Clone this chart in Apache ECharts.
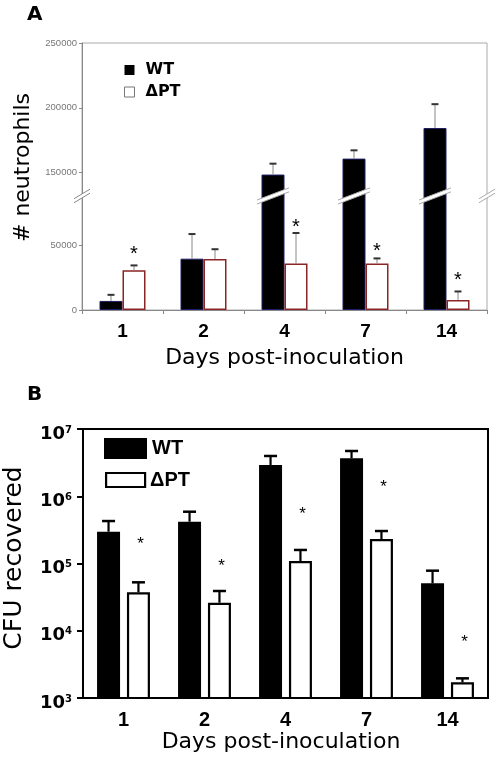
<!DOCTYPE html>
<html><head><meta charset="utf-8">
<script src="https://cdn.jsdelivr.net/npm/echarts@6.0.0/dist/echarts.min.js"></script>
<style>html,body{margin:0;padding:0;background:#fff}#c{width:500px;height:766px}</style>
</head><body><div id="c"></div>
<script>
// ---------------- data ----------------
const days = ['1', '2', '4', '7', '14'];
// Panel A: # neutrophils (mean, +SD), asterisk positions
const neutWT = [7000, 39600, 148500, 160800, 184400];
const neutWTErr = [4700, 19000, 8400, 6400, 18400];
const neutPT = [30700, 39300, 35900, 35900, 7800];
const neutPTErr = [3700, 7600, 23500, 3900, 6500];
const neutStar = [46300, null, 67100, 48600, 26200];
const neutTicks = [0, 50000, 150000, 200000, 250000];
// Panel B: CFU recovered (mean, +SD), asterisk positions
const cfuWT = [297000, 418000, 2920000, 3660000, 50700];
const cfuWTErr = [131000, 171000, 1050000, 1050000, 27500];
const cfuPT = [37300, 26100, 109000, 231000, 1710];
const cfuPTErr = [15200, 12900, 50000, 73000, 250];
const cfuStar = [223000, 105000, 625000, 1570000, 7800];
const cfuMin = 1000, cfuMax = 10000000;

// broken y axis of panel A: values between BREAK_LOW and BREAK_HIGH are cut out
const BREAK_LOW = 88000, BREAK_HIGH = 132000;
const CUT = BREAK_HIGH - BREAK_LOW;
const fA = v => v <= BREAK_LOW ? v : (v >= BREAK_HIGH ? v - CUT : BREAK_LOW);
const invA = v => v > BREAK_LOW ? v + CUT : v;
const fB = v => v;

const SANS = "'Liberation Sans', Arial, sans-serif";
const WIDE = "'DejaVu Sans', sans-serif";

function errSeries(ax, vals, errs, tf, offset, st) {
  return {
    type: 'custom', xAxisIndex: ax, yAxisIndex: ax, silent: true, z: 4,
    data: vals.map((v, i) => [i, tf(v), tf(v + errs[i])]),
    encode: { x: 0, y: [1, 2] },
    renderItem(params, api) {
      const b = api.coord([api.value(0), api.value(1)]);
      const t = api.coord([api.value(0), api.value(2)]);
      const x = b[0] + offset;
      return { type: 'group', children: [
        { type: 'line', shape: { x1: x, y1: b[1], x2: x, y2: t[1] }, style: { stroke: st.stem, lineWidth: st.lw } },
        { type: 'line', shape: { x1: x - st.cap / 2, y1: t[1], x2: x + st.cap / 2, y2: t[1] }, style: { stroke: st.capColor, lineWidth: st.capLw } }
      ]};
    }
  };
}
function starSeries(ax, vals, tf, offset, fs) {
  return {
    type: 'custom', xAxisIndex: ax, yAxisIndex: ax, silent: true, z: 5,
    data: vals.map((v, i) => v == null ? null : [i, tf(v)]).filter(d => d),
    encode: { x: 0, y: 1 },
    renderItem(params, api) {
      const p = api.coord([api.value(0), api.value(1)]);
      return { type: 'text', x: p[0] + offset, y: p[1] + fs * 0.23,
        style: { text: '*', fill: '#000', fontSize: fs, fontFamily: SANS, align: 'center', verticalAlign: 'middle' } };
    }
  };
}
function slash(cx, cy, halfW, slope, thick, edge) {
  const dy = halfW * slope, h = thick / 2;
  const a = [cx - halfW, cy + dy], b = [cx + halfW, cy - dy];
  return [
    { type: 'polygon', shape: { points: [[a[0], a[1] - h], [b[0], b[1] - h], [b[0], b[1] + h], [a[0], a[1] + h]] }, style: { fill: '#fff' } },
    { type: 'line', shape: { x1: a[0], y1: a[1] - h, x2: b[0], y2: b[1] - h }, style: { stroke: edge, lineWidth: 1 } },
    { type: 'line', shape: { x1: a[0], y1: a[1] + h, x2: b[0], y2: b[1] + h }, style: { stroke: edge, lineWidth: 1 } }
  ];
}

const chart = echarts.init(document.getElementById('c'), null, { renderer: 'canvas' });
const option = {
  animation: false,
  backgroundColor: '#fff',
  title: [
    { text: 'A', left: 27, top: 5, padding: 0, textStyle: { fontFamily: WIDE, fontWeight: 'bold', fontSize: 20, color: '#000' } },
    { text: 'B', left: 27, top: 385, padding: 0, textStyle: { fontFamily: WIDE, fontWeight: 'bold', fontSize: 20, color: '#000' } }
  ],
  legend: [
    { left: 124, top: 62, orient: 'vertical', itemWidth: 10, itemHeight: 10, itemGap: 6, selectedMode: false, padding: 0,
      textStyle: { fontFamily: WIDE, fontWeight: 'bold', fontSize: 16, lineHeight: 16, color: '#000', padding: [0, 0, 0, 6] },
      data: [
        { name: 'WT', icon: 'rect', itemStyle: { color: '#000', borderWidth: 0 } },
        { name: 'ΔPT', icon: 'rect', itemStyle: { color: '#fff', borderColor: '#777', borderWidth: 1 } }
      ] },
    { left: 104, top: 438, itemWidth: 43, itemHeight: 21, selectedMode: false, padding: 0,
      textStyle: { fontFamily: SANS, fontWeight: 'bold', fontSize: 20, color: '#000' },
      data: [{ name: 'WT', icon: 'rect', itemStyle: { color: '#000', borderWidth: 0 } }] },
    { left: 105, top: 470, itemWidth: 39, itemHeight: 14, selectedMode: false, padding: 0,
      textStyle: { fontFamily: SANS, fontWeight: 'bold', fontSize: 20, color: '#000' },
      data: [{ name: 'ΔPT', icon: 'rect', itemStyle: { color: '#fff', borderColor: '#000', borderWidth: 2.2 } }] }
  ],
  grid: [
    { left: 82, right: 13, top: 43, height: 267, show: true, borderColor: '#aaa', borderWidth: 1, outerBoundsMode: 'none' },
    { left: 83, right: 12, top: 429, height: 269, show: true, borderColor: '#000', borderWidth: 2, outerBoundsMode: 'none' }
  ],
  xAxis: [
    { type: 'category', gridIndex: 0, data: days,
      axisLine: { lineStyle: { color: '#888', width: 1 } },
      axisTick: { show: true, length: 4, lineStyle: { color: '#888' } },
      axisLabel: { margin: 12, fontFamily: SANS, fontWeight: 'bold', fontSize: 19, color: '#000' },
      name: 'Days post-inoculation', nameLocation: 'middle', nameGap: 37,
      nameTextStyle: { fontFamily: WIDE, fontSize: 22, color: '#000' } },
    { type: 'category', gridIndex: 1, data: days,
      axisLine: { lineStyle: { color: '#000', width: 2 } },
      axisTick: { show: false },
      axisLabel: { margin: 12, fontFamily: SANS, fontWeight: 'bold', fontSize: 20, color: '#000' },
      name: 'Days post-inoculation', nameLocation: 'middle', nameGap: 30,
      nameTextStyle: { fontFamily: WIDE, fontSize: 22, color: '#000', padding: [0, 9, 0, 0] } }
  ],
  yAxis: [
    { type: 'value', gridIndex: 0, min: 0, max: fA(neutTicks[neutTicks.length - 1]),
      axisLine: { show: true, lineStyle: { color: '#888' } },
      axisTick: { show: true, length: 3, customValues: neutTicks.map(fA), lineStyle: { color: '#888' } },
      axisLabel: { customValues: neutTicks.map(fA), margin: 5, fontFamily: SANS, fontSize: 9.5, color: '#777',
        formatter: v => String(Math.round(invA(v))) },
      splitLine: { show: false },
      name: '# neutrophils', nameLocation: 'middle', nameGap: 47, nameRotate: 90,
      nameTextStyle: { fontFamily: WIDE, fontSize: 22, color: '#000', padding: [0, 0, 0, 18] } },
    { type: 'log', gridIndex: 1, min: cfuMin, max: cfuMax, logBase: 10,
      axisLine: { show: true, lineStyle: { color: '#000', width: 2 } },
      axisTick: { show: true, length: 6, lineStyle: { color: '#000', width: 2 } },
      axisLabel: { margin: 11, padding: [10, 0, 0, 0],
        formatter: v => '{b|10}{s|' + Math.round(Math.log10(v)) + '}',
        rich: { b: { fontFamily: WIDE, fontWeight: 'bold', fontSize: 18, color: '#000' },
                s: { fontFamily: WIDE, fontWeight: 'bold', fontSize: 10, color: '#000', verticalAlign: 'top' } } },
      splitLine: { show: false }, minorTick: { show: false },
      name: 'CFU recovered', nameLocation: 'middle', nameGap: 56, nameRotate: 90,
      nameTextStyle: { fontFamily: WIDE, fontSize: 25, color: '#000', padding: [0, 0, 0, 11] } }
  ],
  series: [
    { name: 'WT', type: 'bar', xAxisIndex: 0, yAxisIndex: 0, data: neutWT.map(fA), barWidth: 23, barGap: '0%',
      itemStyle: { color: '#000', borderColor: '#1e1e66', borderWidth: 1 } },
    { name: 'ΔPT', type: 'bar', xAxisIndex: 0, yAxisIndex: 0, data: neutPT.map(fA), barWidth: 23, barGap: '0%',
      itemStyle: { color: '#fff', borderColor: '#8b2525', borderWidth: 1.5 } },
    { name: 'WT', type: 'bar', xAxisIndex: 1, yAxisIndex: 1, data: cfuWT, barWidth: 23, barGap: '30%',
      itemStyle: { color: '#000' } },
    { name: 'ΔPT', type: 'bar', xAxisIndex: 1, yAxisIndex: 1, data: cfuPT, barWidth: 23, barGap: '30%',
      itemStyle: { color: '#fff', borderColor: '#000', borderWidth: 2.2 } },
    errSeries(0, neutWT, neutWTErr, fA, -11.5, { stem: '#888', lw: 1, cap: 7, capColor: '#333', capLw: 2 }),
    errSeries(0, neutPT, neutPTErr, fA, 11.5, { stem: '#888', lw: 1, cap: 7, capColor: '#333', capLw: 2 }),
    errSeries(1, cfuWT, cfuWTErr, fB, -14.95, { stem: '#000', lw: 2.2, cap: 13, capColor: '#000', capLw: 2.5 }),
    errSeries(1, cfuPT, cfuPTErr, fB, 14.95, { stem: '#000', lw: 2.2, cap: 13, capColor: '#000', capLw: 2.5 }),
    starSeries(0, neutStar, fA, 11.5, 20),
    starSeries(1, cfuStar, fB, 17, 17),
    // break marks across the WT bars that cross the cut
    { type: 'custom', xAxisIndex: 0, yAxisIndex: 0, silent: true, z: 6,
      data: neutWT.map((v, i) => v > BREAK_HIGH ? [i, BREAK_LOW] : null).filter(d => d),
      encode: { x: 0, y: 1 },
      renderItem(params, api) {
        const p = api.coord([api.value(0), api.value(1)]);
        return { type: 'group', children: slash(p[0] - 11.5, p[1], 16, 0.38, 4, '#aaa') };
      } },
    // break marks on the left and right axis lines
    { type: 'custom', xAxisIndex: 0, yAxisIndex: 0, silent: true, z: 6,
      data: [[0, BREAK_LOW]], encode: { x: 0, y: 1 },
      renderItem(params, api) {
        const cs = params.coordSys;
        const y = api.coord([api.value(0), api.value(1)])[1];
        return { type: 'group', children: slash(cs.x, y, 8, 0.6, 4, '#888').concat(slash(cs.x + cs.width, y, 8, 0.6, 4, '#aaa')) };
      } }
  ]
};
chart.setOption(option);
</script>
</body></html>
